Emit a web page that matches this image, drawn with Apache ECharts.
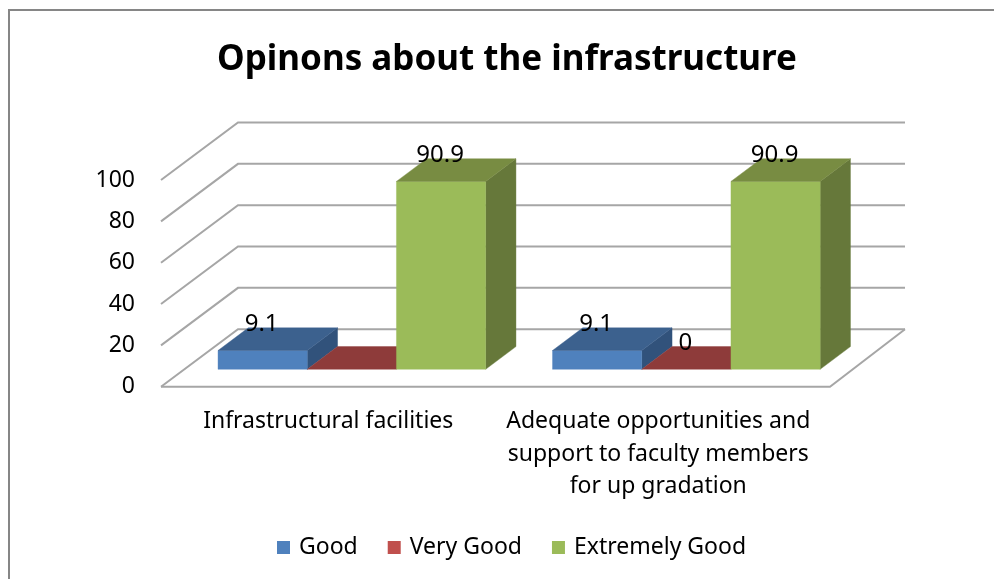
<!DOCTYPE html>
<html><head><meta charset="utf-8">
<style>html,body{margin:0;padding:0;background:#fff}#c{width:994px;height:579px}</style>
<script src="https://cdn.jsdelivr.net/npm/echarts@6/dist/echarts.min.js"></script>
</head><body><div id="c"></div>
<script>
const categories = ['Infrastructural facilities', 'Adequate opportunities and\nsupport to faculty members\nfor up gradation'];
const good = [9.1, 9.1];
const veryGood = [0, 0];
const extremelyGood = [90.9, 90.9];
const veryGoodLabels = ['', '0'];
const yTicks = [0, 20, 40, 60, 80, 100];
const titleText = 'Opinons about the infrastructure';
const FONT = '"Noto Sans"';

const WALL = {dx: 77, dxRight: 75, dy: -57.5};
const BAR_SHIFT = {dx: 23.6, dy: -17.4};
const BAR_DEPTH = {dx: 30.3, dy: -22.7};
const BAR_RATIO = 0.2667;
const GRID_COLOR = '#A6A6A6';

function poly(points, fill) {
  return {type: 'polygon', shape: {points}, style: {fill, stroke: fill, lineWidth: 0.4}};
}
function wallRender(params, api) {
  const cs = params.coordSys;
  const y = api.coord([0, api.value(1)])[1];
  const x0 = cs.x, x1 = cs.x + cs.width;
  const bx = x0 + WALL.dx, by = y + WALL.dy;
  const line = {stroke: GRID_COLOR, lineWidth: 2, fill: null};
  const children = [{type: 'polyline', shape: {points: [[x0, y], [bx, by], [x1 + WALL.dxRight, by]]}, style: line}];
  if (api.value(1) === 0) {
    children.push({type: 'polyline', shape: {points: [[x0, y], [x1, y], [x1 + WALL.dxRight, by]]}, style: line});
  }
  return {type: 'group', children};
}
function barRender(offsetIndex, colors, labelFor) {
  return function (params, api) {
    const idx = api.value(0), val = api.value(1);
    const band = api.size([1, 0])[0];
    const w = band * BAR_RATIO;
    const c = api.coord([idx, val]), b = api.coord([idx, 0]);
    const cx = c[0] + BAR_SHIFT.dx + offsetIndex * w;
    const xl = cx - w / 2, xr = cx + w / 2;
    const yt = c[1] + BAR_SHIFT.dy, yb = b[1] + BAR_SHIFT.dy;
    const dx = BAR_DEPTH.dx, dy = BAR_DEPTH.dy;
    const children = [];
    if (yb - yt > 0.01) {
      children.push(poly([[xr, yt], [xr + dx, yt + dy], [xr + dx, yb + dy], [xr, yb]], colors.side));
      children.push(poly([[xl, yt], [xr, yt], [xr, yb], [xl, yb]], colors.front));
    }
    children.push(poly([[xl, yt], [xl + dx, yt + dy], [xr + dx, yt + dy], [xr, yt]], colors.top));
    const text = labelFor(idx, val);
    if (text !== '') {
      children.push({type: 'text', z2: 100, style: {
        text, x: cx - 1, y: yt - 26, align: 'center', verticalAlign: 'middle',
        fill: '#000', font: '24px ' + FONT
      }});
    }
    return {type: 'group', children};
  };
}
const series = [
  {type: 'custom', name: 'walls', silent: true, z: 1, data: yTicks.map(t => [0, t]),
   encode: {x: 0, y: 1}, renderItem: wallRender},
  {type: 'custom', name: 'Good', z: 2, data: good.map((v, i) => [i, v]), encode: {x: 0, y: 1},
   itemStyle: {color: '#4F81BD'},
   renderItem: barRender(-1, {front: '#4F81BD', top: '#3C618E', side: '#31527B'}, (i, v) => String(v))},
  {type: 'custom', name: 'Very Good', z: 3, data: veryGood.map((v, i) => [i, v]), encode: {x: 0, y: 1},
   itemStyle: {color: '#C0504D'},
   renderItem: barRender(0, {front: '#C0504D', top: '#8E3B3A', side: '#7A3230'}, (i) => veryGoodLabels[i])},
  {type: 'custom', name: 'Extremely Good', z: 4, data: extremelyGood.map((v, i) => [i, v]), encode: {x: 0, y: 1},
   itemStyle: {color: '#9BBB59'},
   renderItem: barRender(1, {front: '#9BBB59', top: '#788C42', side: '#66783A'}, (i, v) => String(v))}
];
const chart = echarts.init(document.getElementById('c'), null, {renderer: 'canvas'});
chart.setOption({
  animation: false,
  backgroundColor: '#fff',
  title: {text: titleText, left: 212, top: 38,
    textStyle: {fontFamily: FONT, fontSize: 35, fontWeight: 'bold', color: '#000'}},
  legend: {left: 277, top: 536, padding: 0, icon: 'rect', itemWidth: 13, itemHeight: 13, itemGap: 30,
    data: ['Good', 'Very Good', 'Extremely Good'],
    textStyle: {fontFamily: FONT, fontSize: 23, color: '#000', padding: [0, 0, 0, 4]}},
  grid: {left: 161, right: 164, top: 180, bottom: 192.3},
  xAxis: {type: 'category', data: categories,
    axisLine: {show: false}, axisTick: {show: false}, splitLine: {show: false},
    axisLabel: {interval: 0, margin: 19, color: '#000', fontFamily: FONT, fontSize: 23, lineHeight: 32.5,
      formatter: (v, i) => i === 1 ? v.split('\n').map(l => '{s|' + l + '}').join('\n') : v,
      rich: {s: {padding: [0, 9, 0, 0], fontFamily: FONT, fontSize: 23, lineHeight: 32.5, color: '#000'}}}},
  yAxis: {type: 'value', min: 0, max: 100, interval: 20,
    axisLine: {show: false}, axisTick: {show: false}, splitLine: {show: false},
    axisLabel: {margin: 26, color: '#000', fontFamily: FONT, fontSize: 23}},
  graphic: [{type: 'rect', silent: true, z: -1, shape: {x: 9, y: 10, width: 1000, height: 600},
    style: {fill: null, stroke: '#868686', lineWidth: 2}}],
  series
});
</script></body></html>
